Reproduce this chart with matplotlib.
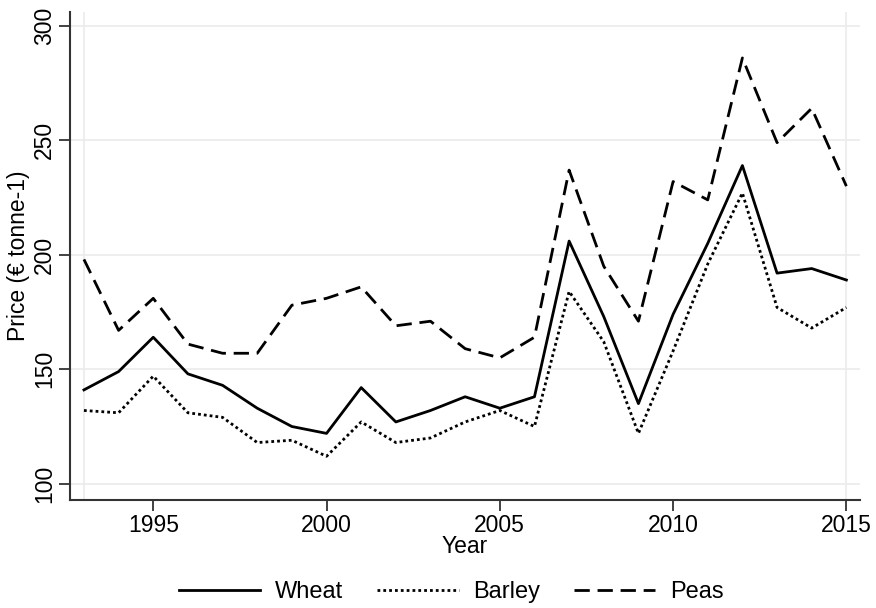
import matplotlib.pyplot as plt
import numpy as np

plt.rcParams['font.family'] = ['Liberation Sans', 'DejaVu Sans']

years = np.arange(1993, 2016)
wheat = [141, 149, 164, 148, 143, 133, 125, 122, 142, 127, 132, 138, 133,
         138, 206, 173, 135, 174, 205, 239, 192, 194, 189]
barley = [132, 131, 147, 131, 129, 118, 119, 112, 127, 118, 120, 127, 132,
          125, 184, 162, 122, 158, 196, 227, 177, 168, 177]
peas = [198, 167, 181, 161, 157, 157, 178, 181, 186, 169, 171, 159, 155,
        164, 237, 195, 171, 232, 224, 286, 249, 264, 230]

fig = plt.figure(figsize=(8.76, 6.08), dpi=100)
ax = fig.add_axes([0.080, 0.178, 0.902, 0.802])

# light grid like Stata's default scheme
for yv in [100, 150, 200, 250, 300]:
    ax.axhline(yv, color='#ebebeb', lw=1.2, zorder=0)
for xv in [years[0], years[-1]]:
    ax.axvline(xv, color='#ebebeb', lw=1.2, zorder=0)

ax.plot(years, wheat, color='black', lw=2.0, ls='-', label='Wheat')
ax.plot(years, barley, color='black', lw=2.0, ls=(0, (1, 1.1)), label='Barley')
ax.plot(years, peas, color='black', lw=2.0, ls=(0, (5.5, 2.8)), label='Peas')

ax.set_xlim(1992.6, 2015.4)
ax.set_ylim(93, 306)
ax.set_xticks([1995, 2000, 2005, 2010, 2015])
ax.set_yticks([100, 150, 200, 250, 300])
ax.tick_params(axis='both', labelsize=16.5, length=8, width=1.3, color='#333333', pad=2)
for lab in ax.get_yticklabels():
    lab.set_rotation(90)
    lab.set_va('center')

for s in ['top', 'right']:
    ax.spines[s].set_visible(False)
for s in ['left', 'bottom']:
    ax.spines[s].set_color('#333333')
    ax.spines[s].set_linewidth(1.5)

ax.set_xlabel('Year', fontsize=16.5, labelpad=-1)
ax.set_ylabel('Price (€ tonne-1)', fontsize=16.5, labelpad=2)

fig.legend(loc='lower center', bbox_to_anchor=(0.515, -0.027), ncol=3, frameon=False,
           fontsize=17, handlelength=3.45, columnspacing=1.45, handletextpad=0.6)

fig.savefig('out.png', dpi=100)
